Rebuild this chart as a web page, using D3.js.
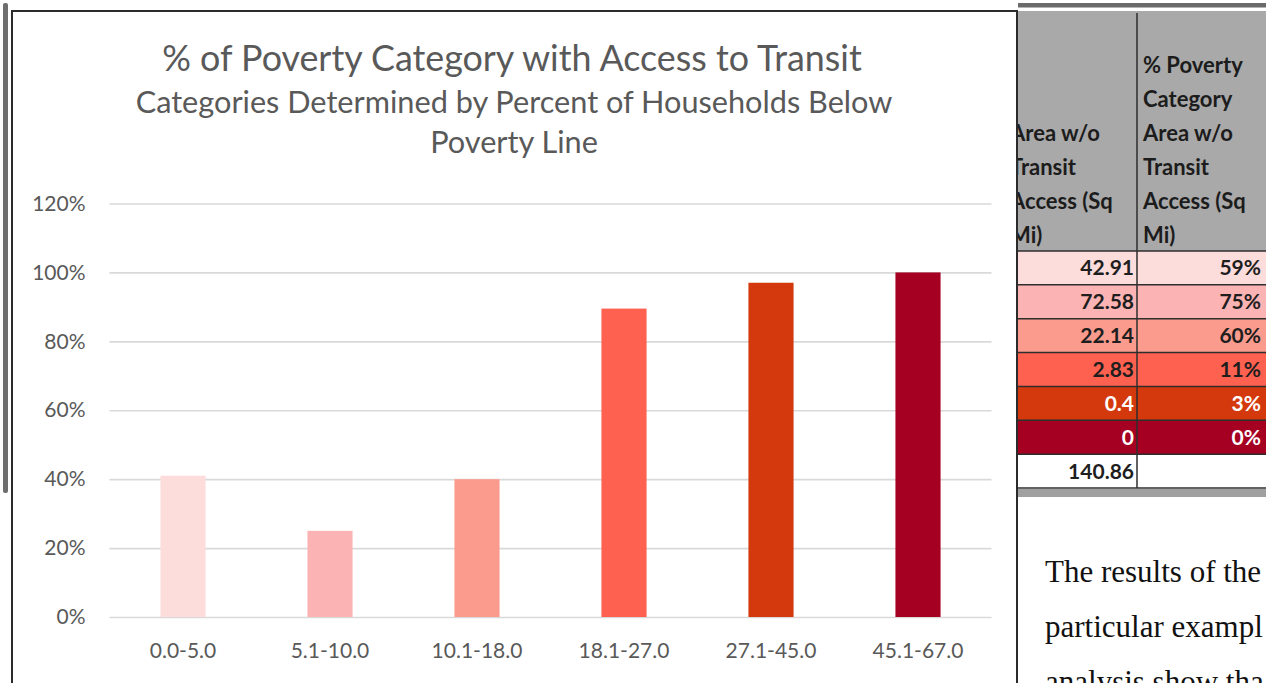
<!DOCTYPE html>
<html>
<head>
<meta charset="utf-8">
<script src="https://cdn.jsdelivr.net/npm/d3@7"></script>
<style>
  html, body { margin: 0; padding: 0; background: #fff; overflow: hidden; }
  svg { display: block; }
</style>
</head>
<body>
<svg id="chart" width="1266" height="683"></svg>
<script>
// ---------- data ----------
const categories = ["0.0-5.0", "5.1-10.0", "10.1-18.0", "18.1-27.0", "27.1-45.0", "45.1-67.0"];
const accessShare = [0.41, 0.25, 0.40, 0.895, 0.97, 1.00];
const yTicks = [0, 0.2, 0.4, 0.6, 0.8, 1.0, 1.2];
const titleText = "% of Poverty Category with Access to Transit";
const subtitleLines = ["Categories Determined by Percent of Households Below", "Poverty Line"];

const headerLeft = ["Area w/o", "Transit", "Access (Sq", "Mi)"];
const headerRight = ["% Poverty", "Category", "Area w/o", "Transit", "Access (Sq", "Mi)"];
const areaWithoutAccess = ["42.91", "72.58", "22.14", "2.83", "0.4", "0"];
const pctWithoutAccess = ["59%", "75%", "60%", "11%", "3%", "0%"];
const areaTotal = "140.86";

const paragraphLines = ["The results of the", "particular exampl", "analysis show tha"];

// palette (styles kept separate from data)
const barColors = ["#fddcdc", "#fcb3b3", "#fb9b8d", "#fe6150", "#d4390e", "#a50021"];
const rowTextColors = ["#1e1e1e", "#1e1e1e", "#1e1e1e", "#1e1e1e", "#ffffff", "#ffffff"];

const svg = d3.select("#chart");
svg.append("rect").attr("width", 1266).attr("height", 683).attr("fill", "#fff");

const sans = "Lato, 'Open Sans', 'DejaVu Sans', sans-serif";
const gray = "#595959";

function fitWidth(sel, target) {
  const w = sel.node().getComputedTextLength();
  const fs = parseFloat(sel.attr("font-size"));
  if (w > 0) sel.attr("font-size", fs * target / w);
}

// ---------- chart ----------
const x = d3.scaleBand().domain(categories).range([109.5, 991.5])
  .paddingInner(0.693).paddingOuter(0.3465);
const y = d3.scaleLinear().domain([0, 1.2]).range([617, 203.5]);

const yAxis = svg.append("g").attr("transform", "translate(109.5,0)")
  .call(d3.axisLeft(y).tickValues(yTicks).tickFormat(d3.format(".0%"))
    .tickSize(-(991.5 - 109.5)).tickPadding(24));
yAxis.select(".domain").remove();
yAxis.selectAll(".tick line").attr("stroke", "#d9d9d9").attr("stroke-width", 1.6);
yAxis.selectAll(".tick text").attr("fill", gray).attr("font-family", sans)
  .attr("font-size", 21).attr("x", -24);

svg.append("g").selectAll("rect").data(categories).join("rect")
  .attr("x", d => x(d))
  .attr("width", x.bandwidth())
  .attr("y", (d, i) => y(accessShare[i]))
  .attr("height", (d, i) => y(0) - y(accessShare[i]))
  .attr("fill", (d, i) => barColors[i]);

const xAxis = svg.append("g").attr("transform", "translate(0,617)")
  .call(d3.axisBottom(x).tickSize(0).tickPadding(26));
xAxis.select(".domain").remove();
xAxis.selectAll(".tick text").attr("fill", gray).attr("font-family", sans).attr("font-size", 21);

// titles
const t1 = svg.append("text").attr("x", 512).attr("y", 71).attr("text-anchor", "middle")
  .attr("fill", gray).attr("font-family", sans).attr("font-size", 32).text(titleText);
fitWidth(t1, 700);
const st = svg.append("g");
subtitleLines.forEach((s, i) => {
  const t = st.append("text").attr("x", 514).attr("y", 113 + i * 40).attr("text-anchor", "middle")
    .attr("fill", gray).attr("font-family", sans).attr("font-size", 23).text(s);
  if (i === 0) fitWidth(t, 757);
});
const subFs = st.select("text").attr("font-size");
st.selectAll("text").attr("font-size", subFs);

// frame lines
svg.append("rect").attr("x", 3).attr("y", 3).attr("width", 5).attr("height", 490)
  .attr("rx", 2).attr("fill", "#6e6e6e");
svg.append("line").attr("x1", 12).attr("x2", 12).attr("y1", 10).attr("y2", 683)
  .attr("stroke", "#2b2b2b").attr("stroke-width", 2);
svg.append("line").attr("x1", 11).attr("x2", 1018).attr("y1", 11).attr("y2", 11)
  .attr("stroke", "#2b2b2b").attr("stroke-width", 2);
svg.append("line").attr("x1", 1017).attr("x2", 1017).attr("y1", 10).attr("y2", 683)
  .attr("stroke", "#2b2b2b").attr("stroke-width", 2);

// ---------- table ----------
const tL = 1018, tMid = 1137, tR = 1266, hTop = 11, hBot = 251;
const rowY = d3.scaleBand().domain(d3.range(7)).range([251, 488]);
const tbl = svg.append("g");
svg.append("rect").attr("x", tL).attr("y", 3).attr("width", tR - tL).attr("height", 4.5).attr("fill", "#6a6a6a");
tbl.append("rect").attr("x", tL).attr("y", hTop).attr("width", tR - tL).attr("height", hBot - hTop).attr("fill", "#a9a9a9");

const rowColors = barColors.concat(["#ffffff"]);
tbl.selectAll("rect.row").data(d3.range(7)).join("rect").attr("class", "row")
  .attr("x", tL).attr("y", i => rowY(i)).attr("width", tR - tL).attr("height", rowY.bandwidth())
  .attr("fill", i => rowColors[i]);
tbl.append("rect").attr("x", tL).attr("y", 489).attr("width", tR - tL).attr("height", 8).attr("fill", "#a0a0a0");

// grid
tbl.selectAll("line.h").data(d3.range(8)).join("line").attr("class", "h")
  .attr("x1", tL).attr("x2", tR).attr("y1", i => rowY(i) !== undefined ? rowY(i) : 488)
  .attr("y2", i => rowY(i) !== undefined ? rowY(i) : 488)
  .attr("stroke", "#2e2e2e").attr("stroke-width", 1.5);
tbl.append("line").attr("x1", tMid).attr("x2", tMid).attr("y1", hTop + 2).attr("y2", 488)
  .attr("stroke", "#2e2e2e").attr("stroke-width", 1.5);

const clipL = svg.append("clipPath").attr("id", "clipL");
clipL.append("rect").attr("x", tL).attr("y", 0).attr("width", tMid - tL).attr("height", 683);

const hb = [141, 175, 209, 243];
tbl.append("g").attr("clip-path", "url(#clipL)").selectAll("text").data(headerLeft).join("text")
  .attr("x", 1010).attr("y", (d, i) => hb[i])
  .attr("font-family", sans).attr("font-weight", "bold").attr("font-size", 22).attr("fill", "#1c1c1c")
  .text(d => d);
tbl.append("g").selectAll("text").data(headerRight).join("text")
  .attr("x", 1143).attr("y", (d, i) => 73 + i * 34)
  .attr("font-family", sans).attr("font-weight", "bold").attr("font-size", 22).attr("fill", "#1c1c1c")
  .text(d => d);

const half = rowY.bandwidth() / 2;
tbl.append("g").selectAll("text").data(areaWithoutAccess.concat([areaTotal])).join("text")
  .attr("x", 1134).attr("y", (d, i) => rowY(i) + half + 7.5).attr("text-anchor", "end")
  .attr("font-family", sans).attr("font-weight", "bold").attr("font-size", 21)
  .attr("fill", (d, i) => rowTextColors[i] || "#1e1e1e").text(d => d);
tbl.append("g").selectAll("text").data(pctWithoutAccess).join("text")
  .attr("x", 1261).attr("y", (d, i) => rowY(i) + half + 7.5).attr("text-anchor", "end")
  .attr("font-family", sans).attr("font-weight", "bold").attr("font-size", 21)
  .attr("fill", (d, i) => rowTextColors[i]).text(d => d);

// ---------- paragraph ----------
svg.append("g").selectAll("text").data(paragraphLines).join("text")
  .attr("x", 1045).attr("y", (d, i) => 582 + i * 55)
  .attr("font-family", "'Liberation Serif', 'Times New Roman', serif").attr("font-size", 31)
  .attr("fill", "#111").text(d => d);
</script>
</body>
</html>
